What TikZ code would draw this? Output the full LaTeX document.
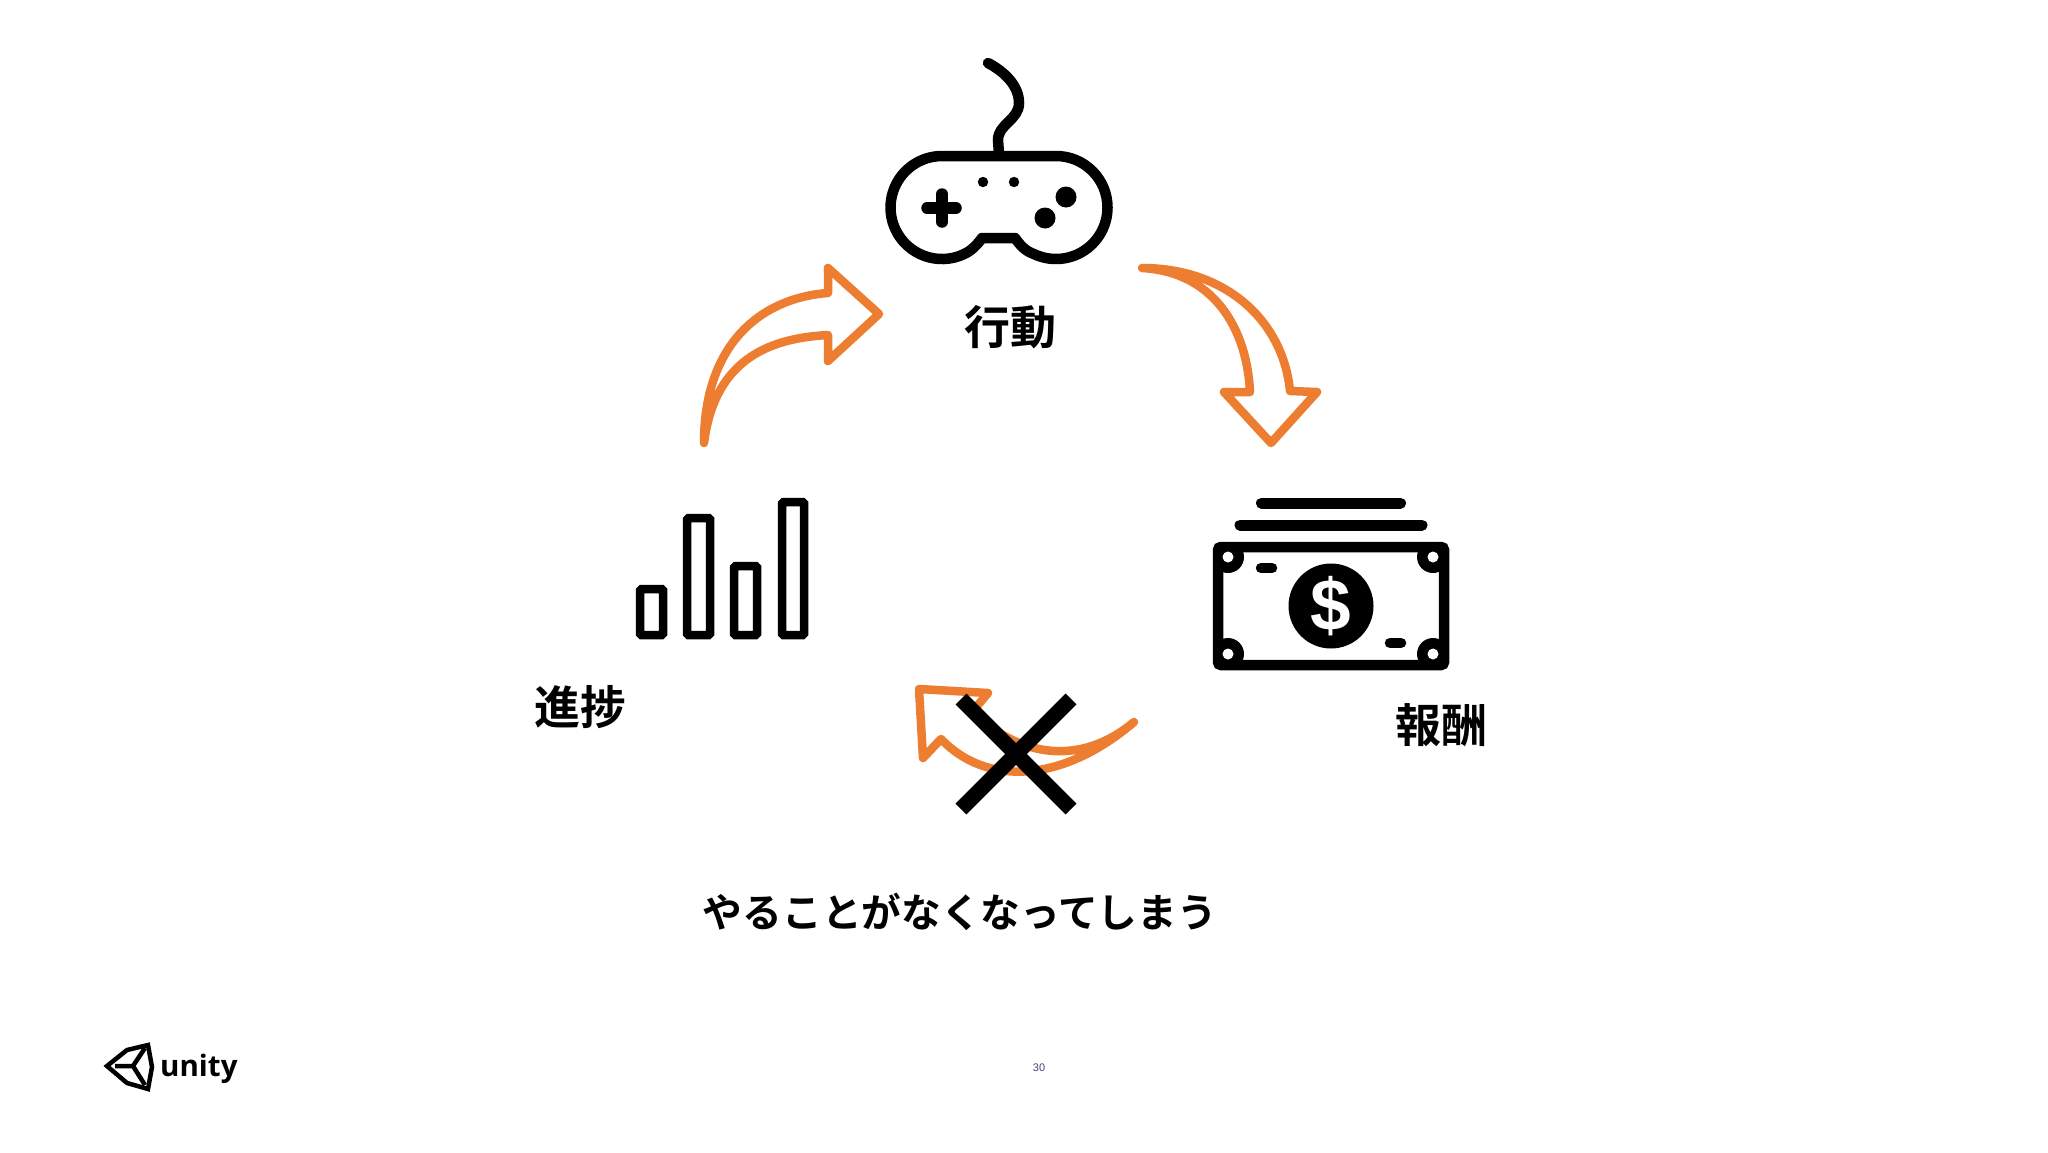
\documentclass[tikz,border=0pt]{standalone}
\usepackage{fontspec}
\setmainfont{Liberation Sans}
\newfontfamily\cjk{Noto Sans CJK JP}[BoldFont={Noto Sans CJK JP Bold}]
\newfontfamily\logofont{Open Sans}
\definecolor{arroworange}{HTML}{ED7D31}
\definecolor{pagenum}{HTML}{44446E}

\begin{document}
\begin{tikzpicture}[x=1pt,y=-1pt,
    iconline/.style={draw=black,line width=10.5pt},
    barline/.style={draw=black,line width=8.5pt,rounded corners=1.5pt},
    curvearrow/.style={draw=arroworange,line width=8.5pt,line join=round,line cap=round},
    bigcaption/.style={inner sep=0pt,font=\cjk\bfseries\fontsize{46}{46}\selectfont},
  ]
   \useasboundingbox[fill=white] (0,0) rectangle (2048,1152);

   % controller
   \begin{scope}
     \draw[iconline,line cap=round] (988,63) .. controls (1005,72) and (1019,86) .. (1019,103)
        .. controls (1019,120) and (998,124) .. (998,140) -- (999,154);
     \draw[iconline,line join=round] (942,156) -- (1056,156) arc (-90:115:51.5)
        .. controls (1025,251) and (1020,245) .. (1015,238) -- (982,238)
        .. controls (977,245) and (971,251) .. (963.8,254.2) arc (65:270:51.5) -- cycle;
     \draw[black,line width=11.5pt,line cap=round] (927,208) -- (956,208) (942,194) -- (942,222);
     \fill (983,182) circle (5.2) (1014,182) circle (5.2);
     \fill (1066,197) circle (10.5) (1045,218) circle (10.5);
   \end{scope}

   % bars
   \draw[barline] (640,635) rectangle (663,589);
   \draw[barline] (687,635) rectangle (710,518);
   \draw[barline] (734,635) rectangle (757,566);
   \draw[barline] (782,635) rectangle (804,502);

   % money
   \begin{scope}
     \draw[black,line width=11pt,line cap=round] (1261.5,503) -- (1400.5,503) (1240,525) -- (1422,525);
     \draw[iconline,rounded corners=3pt] (1218,547) rectangle (1444,665);
     \begin{scope}
       \clip (1218,547) rectangle (1444,665);
       \foreach \cx/\cy in {1228/557,1433/557,1228/654,1433/654} {
         \fill (\cx,\cy) circle (16);
       }
     \end{scope}
     \foreach \cx/\cy in {1228/557,1433/557,1228/654,1433/654} {
       \fill[white] (\cx,\cy) circle (5.5);
     }
     \draw[black,line width=10.5pt,line cap=round] (1261,568) -- (1272,568) (1390,643) -- (1401,643);
     \fill (1331,606) circle (42.5);
     \node[inner sep=0pt,text=white,font=\bfseries\fontsize{73}{73}\selectfont] (dollar) at (1331,606) {\$};
   \end{scope}

   % arrows
   \draw[curvearrow] (1142,268) .. controls (1225,268) and (1283,320) .. (1290,391) -- (1317,392)
      -- (1271,443) -- (1224,392) -- (1250,392) .. controls (1247,330) and (1215,272) .. (1142,268) -- cycle;
   \draw[curvearrow] (704,443) .. controls (704,345) and (760,298) .. (828,293) -- (828,268) -- (879,314)
      -- (828,361) -- (828,335) .. controls (775,338) and (715,355) .. (704,443) -- cycle;
   \draw[curvearrow] (1134,722) .. controls (1095,755) and (1035,770) .. (972,712) -- (988,693) -- (919,689)
      -- (923,758) -- (941,739) .. controls (985,785) and (1060,785) .. (1134,722) -- cycle;

   % cross
   \draw[black,line width=15.3pt] (961,699) -- (1071,809) (1071,699) -- (961,809);

   \node[bigcaption] (action) at (1010,327) {行動};
   \node[bigcaption] (reward) at (1441,725) {報酬};
   \node[bigcaption] (progress) at (580,707) {進捗};
   \node[bigcaption,font=\cjk\bfseries\fontsize{39.7}{40}\selectfont] (nothing) at (960,912) {やることがなくなってしまう};
   \node[inner sep=0pt,text=pagenum,font=\fontsize{11}{11}\selectfont] (pageno) at (1039,1068) {30};

   % logo
   \draw[black,line width=4.5pt,line join=miter] (107,1066) -- (127,1050) -- (148,1045) -- (152,1067)
      -- (148,1089) -- (127,1083) -- cycle;
   \draw[black,line width=4.5pt] (115,1066) -- (133,1066) -- (145,1048) (133,1066) -- (145,1085);
   \node[inner sep=0pt,anchor=base west,font=\logofont\bfseries\fontsize{29.5}{30}\selectfont] (unity) at (160,1076) {unity};
\end{tikzpicture}
\end{document}
